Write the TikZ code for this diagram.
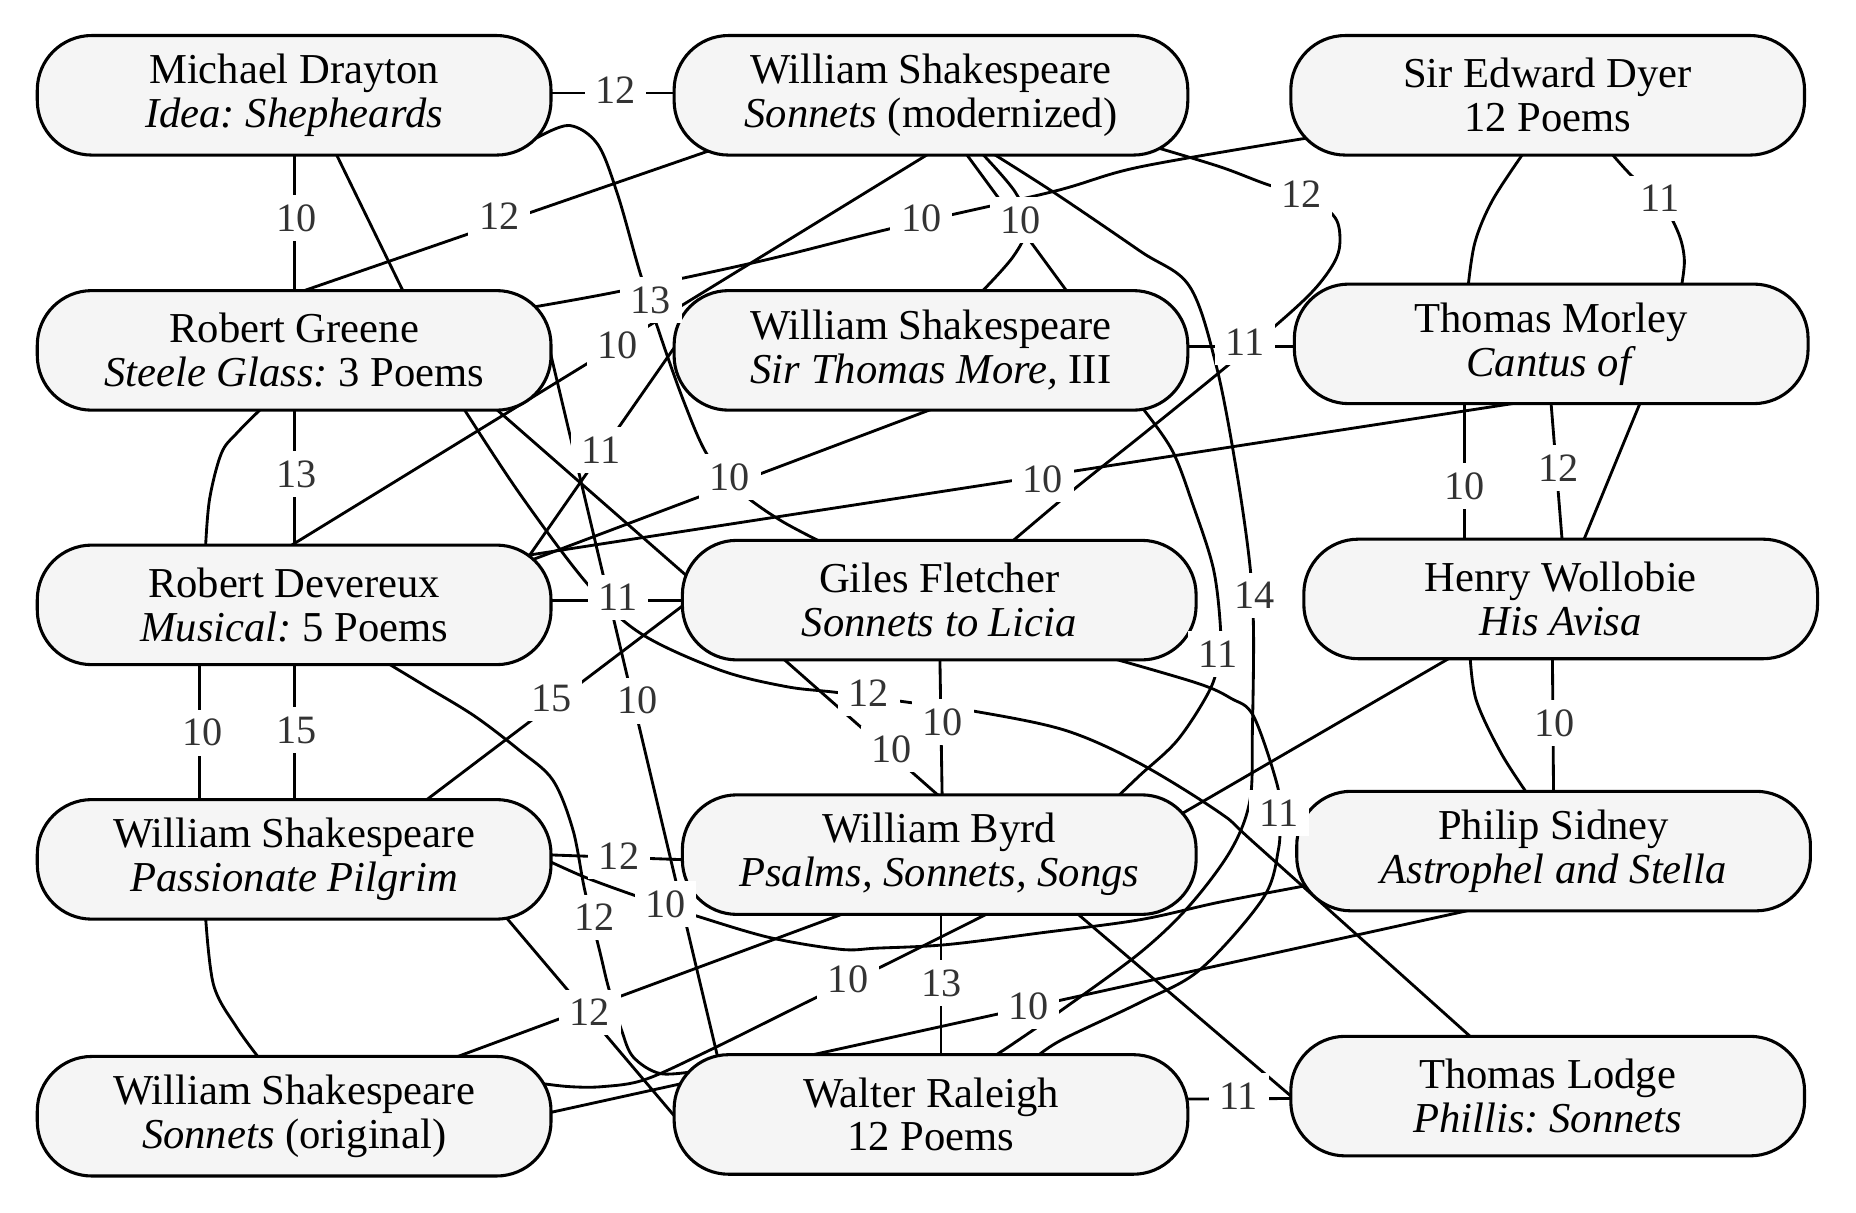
\documentclass[tikz,border=0pt]{standalone}
\usepackage{fontspec}
\setmainfont{Liberation Serif}
\frenchspacing
\definecolor{boxfill}{HTML}{F5F5F5}
\definecolor{labgray}{HTML}{333333}
\pgfdeclarelayer{bglayer}
\pgfdeclarelayer{edgelayer}
\pgfsetlayers{bglayer,edgelayer,main}
\tikzset{
 box/.style={draw=black, line width=1.3pt, fill=boxfill, rounded corners=23pt,
   minimum width=217pt, minimum height=50.5pt, inner sep=0pt, align=center,
   font=\fontsize{18}{18.5}\selectfont},
 lab/.style={fill=white, text=labgray, font=\fontsize{17}{17}\selectfont,
   inner xsep=4.5pt, inner ysep=4pt},
 conn/.style={line width=1.2pt, draw=black},
 sm/.style={smooth, tension=0.55}
}
\begin{document}
\begin{tikzpicture}[x=0.5pt,y=-0.5pt]
\useasboundingbox (0,0) rectangle (1568,1024);
\begin{pgfonlayer}{bglayer}
\fill[white] (0,0) rectangle (1568,1024);
\end{pgfonlayer}
% nodes
\node[box] (dray) at (248.5,80.5) {Michael Drayton\\\textit{Idea: Shepheards}};
\node[box] (wsm) at (786.5,80.5) {William Shakespeare\\\textit{Sonnets} (modernized)};
\node[box] (dyer) at (1307.5,80.5) {Sir Edward Dyer\\12 Poems};
\node[box] (greene) at (248.5,296) {Robert Greene\\\textit{Steele Glass:} 3 Poems};
\node[box] (wsmore) at (786.5,296) {William Shakespeare\\\textit{Sir Thomas More,} III};
\node[box] (morley) at (1310.5,290.5) {Thomas Morley\\\textit{Cantus of}};
\node[box] (dev) at (248.5,511) {Robert Devereux\\\textit{Musical:} 5 Poems};
\node[box] (fletch) at (793.5,507) {Giles Fletcher\\\textit{Sonnets to Licia}};
\node[box] (woll) at (1318.5,506) {Henry Wollobie\\\textit{His Avisa}};
\node[box] (wspp) at (248.5,726) {William Shakespeare\\\textit{Passionate Pilgrim}};
\node[box] (byrd) at (793.5,722) {William Byrd\\\textit{Psalms, Sonnets, Songs}};
\node[box] (sidney) at (1312.5,719) {Philip Sidney\\\textit{Astrophel and Stella}};
\node[box] (wso) at (248.5,943) {William Shakespeare\\\textit{Sonnets} (original)};
\node[box] (raleigh) at (786.5,941.5) {Walter Raleigh\\12 Poems};
\node[box] (lodge) at (1307.5,926) {Thomas Lodge\\\textit{Phillis: Sonnets}};
% connectors
\begin{pgfonlayer}{edgelayer}
\draw[conn] ([shift={(210,-2)}]dray.center) -- ([shift={(-210,-2)}]wsm.center);
\draw[conn] ([shift={(0,45)}]dray.center) -- ([shift={(0,-45)}]greene.center);
\draw[conn] ([shift={(33.5,45.5)}]dray.center) -- ([shift={(94.5,-45)}]greene.center);
\draw[conn] ([shift={(-180.5,44.5)}]wsm.center) -- ([shift={(-4.5,-46)}]greene.center);
\draw[conn] plot[sm] coordinates {([shift={(205,36)}]dray.center) (481,106) (505,122) (522,165) (540,228) (557,281) (578,340) (598,385) (625,415) (660,440) ([shift={(-91.5,-45)}]fletch.center)};
\draw[conn] plot[sm] coordinates {([shift={(198.5,-36)}]greene.center) (524,246) (645,220) (753,193) (889,162) (963,141) ([shift={(-199.5,35.5)}]dyer.center)};
\draw[conn] plot[sm] coordinates {([shift={(188.5,43.5)}]wsm.center) (1031,141) (1071,156) (1105,166) (1128,184) (1132,205) (1127,222) (1110,245) (1080,273) (1026,318) (963,369) (909,412) ([shift={(58.5,-47)}]fletch.center)};
\draw[conn] ([shift={(29,48.5)}]wsm.center) -- ([shift={(117,-47)}]wsmore.center);
\draw[conn] plot[sm] coordinates {([shift={(42.5,48.5)}]wsm.center) (857.5,162) (868,190) (855.8,217) ([shift={(39.5,-46)}]wsmore.center)};
\draw[conn] plot[sm] coordinates {([shift={(49.5,47.5)}]wsm.center) (891,163) (963,212) (1005,242) (1028,311) (1045,400) (1056,478) (1059,534) (1058,620) (1056,676) (1040,718) (1005,765) (963,805) (896,854) (857,881) ([shift={(51.5,-48)}]raleigh.center)};
\draw[conn] plot[sm] coordinates {([shift={(142.5,48)}]greene.center) (439,417) (496,493) (541,535) (608,566) (664,580) (707,585) (765,593) (824,601) (900,617) (963,645) (1031,687) (1064,716) ([shift={(-60.5,-46)}]lodge.center)};
\draw[conn] ([shift={(216,0)}]greene.center) -- ([shift={(-179.5,-45.5)}]raleigh.center);
\draw[conn] ([shift={(4.5,45.5)}]wsm.center) -- ([shift={(-4.5,-49)}]dev.center);
\draw[conn] ([shift={(-215,-5)}]wsmore.center) -- ([shift={(195.5,-37)}]dev.center);
\draw[conn] ([shift={(3.5,48.6)}]wsmore.center) -- ([shift={(197.5,-36.7)}]dev.center);
\draw[conn] ([shift={(191.5,-41)}]dev.center) -- ([shift={(-0.5,45.5)}]morley.center);
\draw[conn] ([shift={(-0.5,45.5)}]morley.center) -- ([shift={(1.5,-46)}]woll.center);
\draw[conn] ([shift={(-73.5,45)}]morley.center) -- ([shift={(-81.5,-45)}]woll.center);
\draw[conn] ([shift={(76.5,46.5)}]morley.center) -- ([shift={(17.5,-45)}]woll.center);
\draw[conn] plot[sm] coordinates {([shift={(-19.5,47.5)}]dyer.center) (1261,169) (1246,205) ([shift={(-70.5,-45.5)}]morley.center)};
\draw[conn] plot[sm] coordinates {([shift={(52.5,47.5)}]dyer.center) (1378,148) (1403,170) (1418,197) (1423,220) ([shift={(109.5,-45.5)}]morley.center)};
\draw[conn] plot[sm] coordinates {([shift={(-24.5,46)}]greene.center) (200,366) (187,383) (177,422) ([shift={(-75,-46)}]dev.center)};
\draw[conn] ([shift={(0,46)}]greene.center) -- ([shift={(0,-46)}]dev.center);
\draw[conn] ([shift={(210,-3.5)}]dev.center) -- ([shift={(-210,0.5)}]fletch.center);
\draw[conn] ([shift={(170,49)}]greene.center) -- ([shift={(-210.5,-18)}]fletch.center);
\draw[conn] ([shift={(107.5,-47)}]wspp.center) -- ([shift={(-210.5,0)}]fletch.center);
\draw[conn] ([shift={(-80,46)}]dev.center) -- ([shift={(-80,-46)}]wspp.center);
\draw[conn] ([shift={(0,46)}]dev.center) -- ([shift={(0,-46)}]wspp.center);
\draw[conn] plot[sm] coordinates {([shift={(73.5,46)}]dev.center) (360,580) (401,605) (439,634) (467,659) (484,701) (494,752) (507,805) (514,834) (525,870) (535,893) (558,907) ([shift={(-196,-37)}]raleigh.center)};
\draw[conn] ([shift={(210,-4)}]wspp.center) -- ([shift={(-210,4.5)}]byrd.center);
\draw[conn] plot[sm] coordinates {([shift={(212,0)}]wspp.center) (494,741) (532,755) (562,765) (589,774) (650,792) (710,802) (741,801) (800,798) (880,788) (963,777) (1031,762) ([shift={(-202.5,28)}]sidney.center)};
\draw[conn] plot[sm] coordinates {([shift={(-75,46)}]wspp.center) (180.4,832) (200,868) ([shift={(-26.5,-45)}]wso.center)};
\draw[conn] ([shift={(176.5,46)}]wspp.center) -- ([shift={(-211.5,7.5)}]raleigh.center);
\draw[conn] ([shift={(123.5,-45)}]wso.center) -- ([shift={(-78.5,49)}]byrd.center);
\draw[conn] plot[sm] coordinates {([shift={(206.5,-28)}]wso.center) (481,918) (509,918) (545,912) (600,887) (689,843) (744,817) ([shift={(44.5,48)}]byrd.center)};
\draw[conn] ([shift={(213.5,-2.5)}]wso.center) -- ([shift={(-57.5,47)}]sidney.center);
\draw[conn] ([shift={(1.5,46)}]byrd.center) -- ([shift={(8.5,-46)}]raleigh.center);
\draw[conn] ([shift={(114.5,48)}]byrd.center) -- ([shift={(-214.5,2)}]lodge.center);
\draw[conn] ([shift={(210,-13)}]raleigh.center) -- ([shift={(-210,2)}]lodge.center);
\draw[conn] ([shift={(200.5,-32)}]byrd.center) -- ([shift={(-90.5,48)}]woll.center);
\draw[conn] ([shift={(-7,46)}]woll.center) -- ([shift={(0,-46)}]sidney.center);
\draw[conn] plot[sm] coordinates {([shift={(-76.7,45.5)}]woll.center) (1247,591) (1268,636) ([shift={(-20.5,-46)}]sidney.center)};
\draw[conn] ([shift={(0.5,46)}]fletch.center) -- ([shift={(2.5,-46)}]byrd.center);
\draw[conn] ([shift={(-133.5,48)}]fletch.center) -- ([shift={(1.5,-48)}]byrd.center);
\draw[conn] plot[sm] coordinates {([shift={(176.5,46)}]wsmore.center) (990,380) (1008,427) (1025,480) (1031,529) (1030,555) (1022,583) (995,625) (963,655) ([shift={(146.5,-45)}]byrd.center)};
\draw[conn] plot[sm] coordinates {([shift={(135,46)}]fletch.center) (1011,577) (1040,590) (1059,605) (1079,663) (1081,690) (1080,718) (1067,759) (1014,819) (963,847) (896,879) ([shift={(86,-46)}]raleigh.center)};
\draw[conn] ([shift={(210,-3)}]wsmore.center) -- ([shift={(-210,2.5)}]morley.center);
\end{pgfonlayer}
% labels
\node[lab] (l1) at (520,76) {12};
\node[lab] (l2) at (250.5,184.5) {10};
\node[lab] (l3) at (421.7,183) {12};
\node[lab] (l4) at (778.3,184.4) {10};
\node[lab] (l5) at (862.5,185.8) {10};
\node[lab] (l6) at (1099.6,164) {12};
\node[lab] (l7) at (1402.6,167.5) {11};
\node[lab] (l8) at (549.8,253.4) {13};
\node[lab] (l9) at (521.5,292) {10};
\node[lab] (l10) at (1051.7,289) {11};
\node[lab] (l11) at (250.5,400.5) {13};
\node[lab] (l12) at (508,380) {11};
\node[lab] (l13) at (616.7,403) {10};
\node[lab] (l14) at (881,405) {10};
\node[lab] (l15) at (1237,410.5) {10};
\node[lab] (l16) at (1317,395.5) {12};
\node[lab] (l17) at (522.4,504.7) {11};
\node[lab] (l18) at (1060,503) {14};
\node[lab] (l19) at (1029,552.5) {11};
\node[lab] (l20) at (171,619) {10};
\node[lab] (l21) at (250.5,616.7) {15};
\node[lab] (l22) at (466,590) {15};
\node[lab] (l23) at (538.4,592) {10};
\node[lab] (l24) at (734,586) {12};
\node[lab] (l25) at (796.5,610) {10};
\node[lab] (l26) at (753,633) {10};
\node[lab] (l27) at (1313,611) {10};
\node[lab] (l28) at (1080.7,686.8) {11};
\node[lab] (l29) at (523,723.5) {12};
\node[lab] (l30) at (502,775) {12};
\node[lab] (l31) at (562.4,764) {10};
\node[lab] (l32) at (498.4,855.4) {12};
\node[lab] (l33) at (716.5,827) {10};
\node[lab] (l34) at (795.8,830.5) {13};
\node[lab] (l35) at (869,850) {10};
\node[lab] (l36) at (1046.5,926) {11};
\end{tikzpicture}
\end{document}
